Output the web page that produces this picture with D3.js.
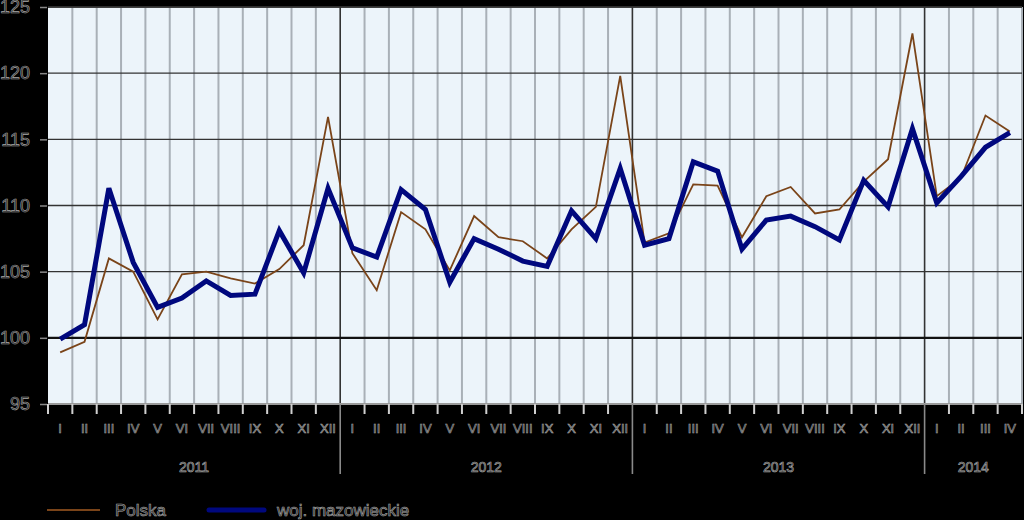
<!DOCTYPE html>
<html><head><meta charset="utf-8">
<script src="https://cdn.jsdelivr.net/npm/d3@7/dist/d3.min.js"></script>
<style>html,body{margin:0;padding:0;background:#000;}svg{display:block;}</style>
</head><body>
<svg id="chart" width="1024" height="520"></svg>
<script>
const years = [{label:"2011", n:12},{label:"2012", n:12},{label:"2013", n:12},{label:"2014", n:4}];
const monthLabels = ["I","II","III","IV","V","VI","VII","VIII","IX","X","XI","XII"];
const polska = [98.9,99.7,106.0,105.0,101.4,104.8,105.0,104.5,104.1,105.2,107.0,116.7,
  106.4,103.6,109.5,108.2,105.1,109.2,107.6,107.3,106.0,108.2,109.9,119.8,
  107.2,107.9,111.6,111.5,107.6,110.7,111.4,109.4,109.7,111.8,113.5,123.0,
  110.7,112.1,116.8,115.6];
const mazowieckie = [99.9,101.0,111.3,105.7,102.3,103.0,104.3,103.2,103.3,108.1,104.9,111.3,
  106.8,106.1,111.2,109.7,104.2,107.5,106.7,105.8,105.4,109.6,107.5,112.8,
  107.0,107.5,113.3,112.6,106.7,108.9,109.2,108.4,107.4,111.9,109.9,115.8,
  110.2,112.2,114.4,115.5];
const yTicks = [95,100,105,110,115,120,125];
const seriesNames = ["Polska","woj. mazowieckie"];

const months = [];
years.forEach(y => { for (let i=0;i<y.n;i++) months.push({key:y.label+"-"+i, m:monthLabels[i], year:y.label}); });

const svg = d3.select("#chart");
const L=48, R=1022, T=7, B=404;
const x = d3.scaleBand().domain(months.map(d=>d.key)).range([L,R]).padding(0);
const y = d3.scaleLinear().domain([95,125]).range([B,T]);
const bw = x.bandwidth();

function txt(sel){ return sel.attr("fill","#1c1c1c").attr("stroke","#a8a8a8").attr("stroke-width",0.6).attr("font-family","Liberation Sans, Arial, sans-serif"); }

// plot background
svg.append("rect").attr("x",L).attr("y",T).attr("width",R-L).attr("height",B-T).attr("fill","#ecf4fa");

// vertical month grid
const yearStarts = new Set();
let acc=0; years.forEach(yy=>{ yearStarts.add(acc); acc+=yy.n; });
const g = svg.append("g");
months.forEach((d,i)=>{
  if (i===0) return;
  const xx = x(d.key);
  const isYear = yearStarts.has(i);
  g.append("line").attr("x1",xx).attr("x2",xx).attr("y1",T).attr("y2",B)
    .attr("stroke", isYear?"#333":"#a9b0b7").attr("stroke-width", isYear?1.6:2);
});
// right edge
g.append("line").attr("x1",R).attr("x2",R).attr("y1",T).attr("y2",B).attr("stroke","#a9b0b7").attr("stroke-width",2);

// horizontal grid
yTicks.forEach(v=>{
  if (v===95) return;
  g.append("line").attr("x1",L).attr("x2",R).attr("y1",y(v)).attr("y2",y(v))
    .attr("stroke", v===100?"#111":"#333").attr("stroke-width", v===100?2.4:1.4);
});
// bottom axis line
g.append("line").attr("x1",L).attr("x2",R).attr("y1",B).attr("y2",B).attr("stroke","#9a9a9a").attr("stroke-width",2);

// y axis ticks & labels
const yAxis = d3.axisLeft(y).tickValues(yTicks).tickSize(7).tickPadding(10);
const ya = svg.append("g").attr("transform",`translate(${L-1},0)`).call(yAxis);
ya.select(".domain").remove();
ya.selectAll(".tick line").attr("stroke","#888").attr("stroke-width",1.5);
ya.selectAll(".tick text").attr("font-size",18).call(txt).attr("x",-17);

// x ticks
months.forEach((d,i)=>{
  const xx = x(d.key);
  const isYear = yearStarts.has(i) && i>0;
  svg.append("line").attr("x1",xx).attr("x2",xx).attr("y1",B).attr("y2", isYear?474:414)
    .attr("stroke", isYear?"#8a8a8a":"#d0d0d0").attr("stroke-width", isYear?1.6:2);
});
svg.append("line").attr("x1",R).attr("x2",R).attr("y1",B).attr("y2",414).attr("stroke","#d0d0d0").attr("stroke-width",2);

// month labels
svg.append("g").selectAll("text").data(months).join("text")
  .attr("x",d=>x(d.key)+bw/2).attr("y",433).attr("text-anchor","middle")
  .attr("font-size",13).text(d=>d.m).call(txt);

// year labels
acc=0;
years.forEach(yy=>{
  const x0 = x(months[acc].key), x1 = x(months[acc+yy.n-1].key)+bw;
  svg.append("text").attr("x",(x0+x1)/2).attr("y",472).attr("text-anchor","middle")
    .attr("font-size",14).text(yy.label).call(txt);
  acc+=yy.n;
});

// lines
const line = d3.line().x((d,i)=>x(months[i].key)+bw/2).y(d=>y(d));
svg.append("path").datum(polska).attr("d",line).attr("fill","none")
  .attr("stroke","#7a4419").attr("stroke-width",1.8).attr("stroke-linejoin","miter");
svg.append("path").datum(mazowieckie).attr("d",line).attr("fill","none")
  .attr("stroke","#00087e").attr("stroke-width",5).attr("stroke-linejoin","miter");

// top border
svg.append("line").attr("x1",L).attr("x2",R).attr("y1",T).attr("y2",T).attr("stroke","#333").attr("stroke-width",1.4);

// legend
const lg = svg.append("g");
lg.append("line").attr("x1",47).attr("x2",100).attr("y1",510).attr("y2",510).attr("stroke","#7a4419").attr("stroke-width",2);
lg.append("text").attr("x",115).attr("y",516).attr("font-size",17).text(seriesNames[0]).call(txt);
lg.append("line").attr("x1",209).attr("x2",264).attr("y1",510).attr("y2",510).attr("stroke","#00087e").attr("stroke-width",5).attr("stroke-linecap","round");
lg.append("text").attr("x",277).attr("y",516).attr("font-size",17).text(seriesNames[1]).call(txt);
</script>
</body></html>
